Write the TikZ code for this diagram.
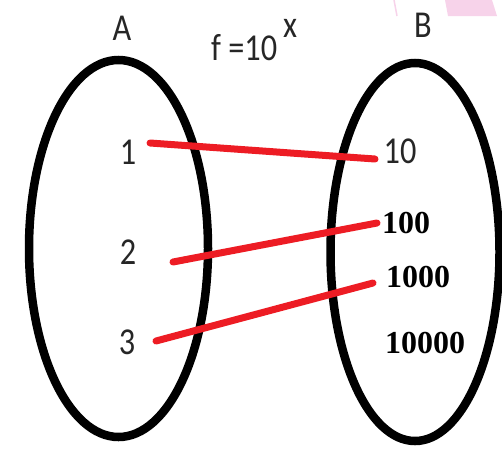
\documentclass[tikz,border=0pt]{standalone}
\usepackage{fontspec}
\usetikzlibrary{shapes.geometric}
\newfontfamily\carl{Carlito}
\newfontfamily\tnr{Liberation Serif}
\definecolor{lred}{HTML}{ED1C24}
\definecolor{lgray}{HTML}{262626}
\definecolor{lpink}{HTML}{F7D3EA}
\tikzset{
  setring/.style={ellipse, draw=black, line width=8.5pt, inner sep=0pt},
  sanslabel/.style={anchor=base, inner sep=0pt, text=lgray, xscale=0.85,
    font=\carl\fontsize{38}{38}\selectfont},
  seriflabel/.style={anchor=base, inner sep=0pt, text=black,
    font=\tnr\bfseries\fontsize{32}{32}\selectfont},
  mapline/.style={draw=lred, line width=7pt, line cap=round}
}
\begin{document}
\begin{tikzpicture}[x=1pt,y=-1pt]
\useasboundingbox (0,0) rectangle (502,461);
% faint pink artifact at top right
\fill[lpink] (445,0) -- (492,0) -- (497,16) -- (448,16) -- cycle;
\draw[lpink, line width=1.5pt] (394,0) -- (397,16);
% the two sets
\node[setring, minimum width=179pt, minimum height=377pt] (setA) at (118.5,248.5) {};
\node[setring, minimum width=169pt, minimum height=378pt] (setB) at (415,252) {};
% titles
\node[sanslabel] (tA) at (122,40) {A};
\node[sanslabel] (tB) at (423,37) {B};
\node[sanslabel, anchor=base west] (func) at (211,60) {f =10\hspace{7pt}\raisebox{23pt}{x}};
% domain
\node[sanslabel] (a1) at (128,164) {1};
\node[sanslabel] (a2) at (128,264) {2};
\node[sanslabel] (a3) at (127,354) {3};
% codomain
\node[sanslabel] (b1) at (400,163) {10};
\node[seriflabel] (b2) at (406,233) {100};
\node[seriflabel] (b3) at (418,287) {1000};
\node[seriflabel] (b4) at (425,353) {10000};
% mapping line end points
\coordinate (s1) at (150,143);
\coordinate (e1) at (375,159);
\coordinate (s2) at (173,262);
\coordinate (e2) at (377,223);
\coordinate (s3) at (156,341);
\coordinate (e3) at (373,283);
\draw[mapline] (s1) -- (e1);
\draw[mapline] (s2) -- (e2);
\draw[mapline] (s3) -- (e3);
\end{tikzpicture}
\end{document}
